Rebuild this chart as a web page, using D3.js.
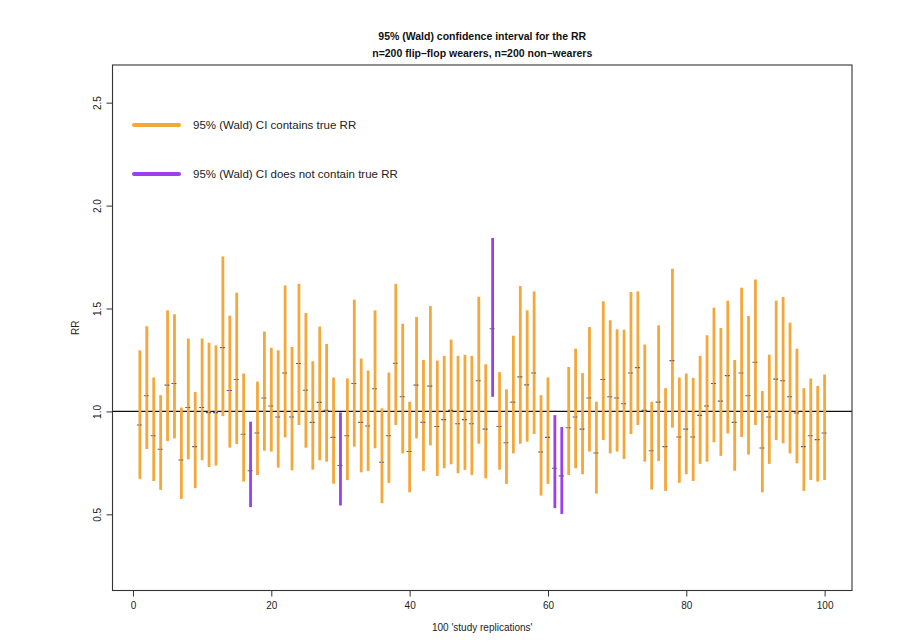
<!DOCTYPE html>
<html><head><meta charset="utf-8">
<script src="https://cdn.jsdelivr.net/npm/d3@7"></script>
<style>body{margin:0;background:#fff} text{font-family:"Liberation Sans",Arial,Helvetica,sans-serif}</style>
</head><body><svg id="c" width="910" height="644"></svg>
<script>
const replication = d3.range(1, 101);
const lower = [0.672,0.817,0.662,0.619,0.856,0.869,0.575,0.767,0.627,0.763,
0.730,0.737,0.977,0.824,0.842,0.659,0.535,0.691,0.809,0.805,
0.727,0.874,0.714,0.934,0.824,0.717,0.763,0.756,0.649,0.543,
0.666,0.829,0.704,0.711,0.821,0.554,0.653,0.934,0.796,0.607,
0.869,0.711,0.835,0.687,0.724,0.743,0.700,0.716,0.691,0.843,
0.675,1.071,0.717,0.648,0.796,0.843,0.853,0.890,0.591,0.648,
0.530,0.502,0.691,0.724,0.695,0.805,0.601,0.861,0.796,0.805,
0.769,0.890,0.934,0.756,0.620,0.759,0.614,0.921,0.653,0.695,
0.662,0.745,0.756,0.850,0.784,0.893,0.712,0.876,0.790,0.934,
0.607,0.745,0.861,0.845,0.796,0.748,0.614,0.667,0.659,0.667];
const upper = [1.297,1.414,1.165,1.079,1.491,1.472,1.019,1.354,1.094,1.354,
1.334,1.321,1.753,1.465,1.577,1.184,0.950,1.145,1.388,1.309,
1.297,1.612,1.313,1.620,1.478,1.244,1.412,1.328,1.165,0.995,
1.160,1.543,1.257,1.199,1.491,1.015,1.189,1.620,1.426,1.047,
1.459,1.250,1.512,1.247,1.270,1.349,1.270,1.275,1.270,1.557,
1.229,1.843,1.191,1.107,1.368,1.609,1.491,1.583,1.079,1.165,
0.982,0.924,1.216,1.305,1.186,1.410,1.047,1.535,1.443,1.399,
1.397,1.580,1.583,1.325,1.047,1.418,1.113,1.693,1.165,1.184,
1.163,1.270,1.370,1.504,1.405,1.538,1.250,1.601,1.464,1.641,
1.099,1.276,1.538,1.556,1.431,1.305,1.113,1.160,1.124,1.179];
const estimate = [0.934,1.076,0.882,0.816,1.128,1.136,0.764,1.019,0.829,1.019,
0.994,0.994,1.310,1.102,1.155,0.889,0.712,0.895,1.065,1.026,
0.973,1.187,0.973,1.233,1.103,0.947,1.044,1.005,0.874,0.737,
0.882,1.136,0.947,0.929,1.110,0.753,0.882,1.234,1.071,0.805,
1.128,0.947,1.123,0.927,0.960,1.005,0.940,0.960,0.940,1.149,
0.914,1.402,0.927,0.848,1.045,1.168,1.129,1.187,0.803,0.874,
0.724,0.687,0.921,0.973,0.914,1.065,0.798,1.155,1.071,1.065,
1.037,1.187,1.213,1.005,0.809,1.045,0.829,1.247,0.876,0.914,
0.876,0.981,1.026,1.136,1.050,1.174,0.947,1.187,1.076,1.239,
0.822,0.973,1.157,1.149,1.071,0.992,0.829,0.882,0.863,0.895];
const xTicks = [0, 20, 40, 60, 80, 100];
const yTicks = [0.5, 1.0, 1.5, 2.0, 2.5];
const trueRR = 1;
const titleLines = ["95% (Wald) confidence interval for the RR", "n=200 flip\u2013flop wearers, n=200 non\u2013wearers"];
const legendLabels = ["95% (Wald) CI contains true RR", "95% (Wald) CI does not contain true RR"];
const colIn = "#f4a73a", colOut = "#9a3ff0";

const svg = d3.select("#c");
const L = 112.5, R = 852, T = 65, B = 590.5;
const x = d3.scaleLinear().domain([-2.96, 103.96]).range([L, R]);
const y = d3.scaleLinear().domain([0.13, 2.683]).range([B, T]);

// reference line
svg.append("line").attr("x1", L).attr("x2", R).attr("y1", y(trueRR)).attr("y2", y(trueRR))
  .attr("stroke", "#111").attr("stroke-width", 1.1);

const data = replication.map((r, i) => ({r, lo: lower[i], hi: upper[i], est: estimate[i]}));
svg.append("g").selectAll("line").data(data).join("line")
  .attr("x1", d => x(d.r)).attr("x2", d => x(d.r))
  .attr("y1", d => y(d.lo)).attr("y2", d => y(d.hi))
  .attr("stroke", d => (d.lo <= trueRR && d.hi >= trueRR) ? colIn : colOut)
  .attr("stroke-width", 2.8);
svg.append("g").selectAll("line").data(data).join("line")
  .attr("x1", d => x(d.r) - 3).attr("x2", d => x(d.r) + 3)
  .attr("y1", d => y(d.est)).attr("y2", d => y(d.est))
  .attr("stroke", "#556070").attr("stroke-width", 1.1).attr("stroke-dasharray", "2,1");

// box
svg.append("rect").attr("x", L).attr("y", T).attr("width", R - L).attr("height", B - T)
  .attr("fill", "none").attr("stroke", "#333").attr("stroke-width", 1.1);

// axes
const xa = svg.append("g").attr("transform", `translate(0,${B})`)
  .call(d3.axisBottom(x).tickValues(xTicks).tickSize(6).tickPadding(5).tickFormat(d3.format("d")));
xa.select(".domain").remove();
xa.selectAll("line").attr("stroke", "#333");
xa.selectAll("text").attr("font-size", 10).attr("fill", "#222").style("font-family", "Liberation Sans, Arial, sans-serif");

const ya = svg.append("g").attr("transform", `translate(${L},0)`)
  .call(d3.axisLeft(y).tickValues(yTicks).tickSize(6).tickFormat(d3.format(".1f")));
ya.select(".domain").remove();
ya.selectAll("line").attr("stroke", "#333");
ya.selectAll("text").attr("font-size", 10).attr("fill", "#222")
  .attr("x", null).attr("dy", null)
  .attr("text-anchor", "middle")
  .attr("transform", "translate(-11,0) rotate(-90)")
  .attr("dy", "-0.1em")
  .style("font-family", "Liberation Sans, Arial, sans-serif");

// titles
svg.append("g").selectAll("text").data(titleLines).join("text")
  .attr("x", (L + R) / 2).attr("y", (d, i) => 40 + i * 17)
  .attr("text-anchor", "middle").attr("font-size", 10.5).attr("font-weight", "bold").attr("fill", "#111")
  .text(d => d);

svg.append("text").attr("x", (L + R) / 2).attr("y", 631).attr("text-anchor", "middle")
  .attr("font-size", 10).attr("fill", "#222").text("100 'study replications'");
svg.append("text").attr("transform", `translate(79,${(T + B) / 2}) rotate(-90)`).attr("text-anchor", "middle")
  .attr("font-size", 10).attr("fill", "#222").text("RR");

// legend
const leg = svg.append("g").selectAll("g").data(legendLabels).join("g")
  .attr("transform", (d, i) => `translate(0,${125 + i * 49})`);
leg.append("line").attr("x1", 134).attr("x2", 179).attr("y1", 0).attr("y2", 0)
  .attr("stroke", (d, i) => i === 0 ? colIn : colOut).attr("stroke-width", 4).attr("stroke-linecap", "round");
leg.append("text").attr("x", 193).attr("y", 4).attr("font-size", 11.5).attr("fill", "#222").text(d => d);
</script>
</body></html>
